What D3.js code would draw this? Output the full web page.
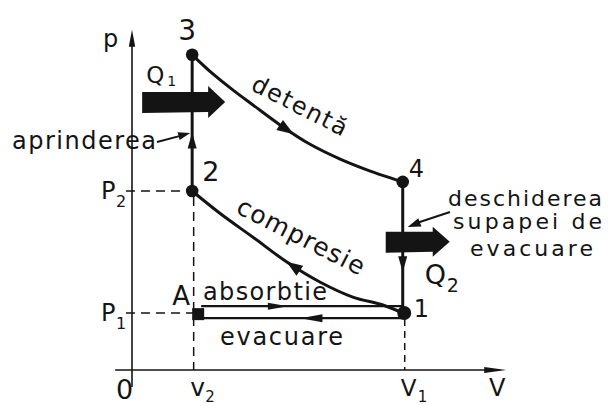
<!DOCTYPE html>
<html>
<head>
<meta charset="utf-8">
<script src="https://cdn.jsdelivr.net/npm/d3@7"></script>
<style>
  html, body { margin: 0; padding: 0; background: #fff; }
  svg { display: block; }
  text { font-family: "DejaVu Sans", sans-serif; fill: #141414; }
</style>
</head>
<body>
<svg id="chart" width="613" height="406"></svg>
<script>
// Otto cycle in the p–V plane: states, processes and heat exchange.

// State points (volume, pressure)
const stateNames = ["1", "2", "3", "4", "A"];
const stateV = [4.5, 1.0, 1.0, 4.5, 1.1];
const stateP = [1.0, 3.14, 5.53, 3.30, 0.98];

// Expansion 3 -> 4 (detentă)
const expansionV = [1.0, 1.35, 1.68, 2.01, 2.46, 2.96, 3.46, 3.96, 4.5];
const expansionP = [5.53, 5.19, 4.91, 4.65, 4.30, 3.96, 3.70, 3.49, 3.30];

// Compression 1 -> 2 (compresie)
const compressionV = [4.5, 4.17, 3.67, 3.13, 2.58, 2.01, 1.46, 1.0];
const compressionP = [1.0, 1.14, 1.28, 1.54, 1.89, 2.33, 2.75, 3.14];

// Intake and exhaust strokes
const intakeP = 1.12;
const exhaustP = 0.91;

// Axis marks
const volumeMarkNames = ["v", "V"];
const volumeMarkSubs = ["2", "1"];
const volumeMarkValues = [1.0, 4.5];
const pressureMarkNames = ["P", "P"];
const pressureMarkSubs = ["2", "1"];
const pressureMarkValues = [3.14, 1.0];

// Heat flows across the isochores
const heatNames = ["Q", "Q"];
const heatSubs = ["1", "2"];
const heatV = [1.0, 4.5];
const heatP = [4.70, 2.25];

const ink = "#141414";
const svg = d3.select("#chart");
const x = d3.scaleLinear().domain([0, 6.2]).range([132, 505]);
const y = d3.scaleLinear().domain([0, 6]).range([370, 28]);

const straight = d3.line().x(d => x(d[0])).y(d => y(d[1]));
const smooth = d3.line().x(d => x(d[0])).y(d => y(d[1])).curve(d3.curveCatmullRom.alpha(0.5));

function head(g, tx, ty, ang, len, half) {
  const c = Math.cos(ang), s = Math.sin(ang);
  const bx = tx - c * len, by = ty - s * len;
  g.append("path")
    .attr("d", `M${tx},${ty}L${bx - s * half},${by + c * half}L${bx + s * half},${by - c * half}Z`)
    .attr("fill", ink);
}

// arrowhead placed along a drawn path at a fraction of its length
function flowHead(pathSel, frac, len, half) {
  const node = pathSel.node();
  const L = node.getTotalLength();
  const p = node.getPointAtLength(frac * L);
  const q = node.getPointAtLength(Math.max(0, frac * L - 2));
  head(svg, p.x, p.y, Math.atan2(p.y - q.y, p.x - q.x), len, half);
}

function label(txt, px, py, size, extra) {
  const t = svg.append("text").attr("x", px).attr("y", py).attr("font-size", size).text(txt);
  if (extra) extra(t);
  return t;
}

// ---- axes
svg.append("line").attr("x1", x(0)).attr("x2", x(0)).attr("y1", y(-0.3)).attr("y2", y(5.8))
  .attr("stroke", ink).attr("stroke-width", 1.6);
head(svg, x(0), y(5.97), -Math.PI / 2, 17, 3.2);
svg.append("line").attr("x1", x(-0.28)).attr("x2", x(6.0)).attr("y1", y(0)).attr("y2", y(0))
  .attr("stroke", ink).attr("stroke-width", 1.6);
head(svg, x(6.22), y(0), 0, 22, 3);

label("p", 103, 47, 24);
label("V", 489, 396, 24);
label("0", 116, 399, 27);

// ---- guide lines (dashed)
const dash = "9,6";
svg.append("line").attr("x1", x(-0.1)).attr("x2", x(stateV[1]) - 5)
  .attr("y1", y(pressureMarkValues[0])).attr("y2", y(pressureMarkValues[0]))
  .attr("stroke", ink).attr("stroke-width", 1.5).attr("stroke-dasharray", dash);
svg.append("line").attr("x1", x(-0.1)).attr("x2", x(stateV[4]))
  .attr("y1", y(pressureMarkValues[1])).attr("y2", y(pressureMarkValues[1]))
  .attr("stroke", ink).attr("stroke-width", 1.5).attr("stroke-dasharray", dash);
svg.append("line").attr("x1", x(volumeMarkValues[0]) + 1.5).attr("x2", x(volumeMarkValues[0]) + 1.5)
  .attr("y1", y(stateP[1]) + 6).attr("y2", y(0))
  .attr("stroke", ink).attr("stroke-width", 1.5).attr("stroke-dasharray", dash);
svg.append("line").attr("x1", x(volumeMarkValues[1]) + 2).attr("x2", x(volumeMarkValues[1]) + 2)
  .attr("y1", y(stateP[0]) + 6).attr("y2", y(0))
  .attr("stroke", ink).attr("stroke-width", 1.5).attr("stroke-dasharray", "7,5");

// axis mark labels
volumeMarkNames.forEach((n, i) => {
  const px = x(volumeMarkValues[i]);
  label(n, px - 2, 396, i === 0 ? 25 : 23);
  label(volumeMarkSubs[i], px + (i === 0 ? 13 : 15), 402, 15);
});
pressureMarkNames.forEach((n, i) => {
  const py = y(pressureMarkValues[i]);
  label(n, 101, py + 8, 24);
  label(pressureMarkSubs[i], 116, py + 16, 16);
});

// ---- cycle processes
const v1 = stateV[0], v2 = stateV[1];

// 2 -> 3 ignition, constant volume
const iso23 = svg.append("path").attr("d", straight([[v2, stateP[1]], [v2, stateP[2]]]))
  .attr("fill", "none").attr("stroke", ink).attr("stroke-width", 3);
flowHead(iso23, 0.43, 16, 4.5);

// 3 -> 4 expansion
const exp = svg.append("path").attr("d", smooth(expansionV.map((v, i) => [v, expansionP[i]])))
  .attr("fill", "none").attr("stroke", ink).attr("stroke-width", 3).attr("stroke-linecap", "round");
flowHead(exp, 0.52, 17, 6);

// 4 -> 1 exhaust valve opening, constant volume
const iso41 = svg.append("path").attr("d", straight([[v1, stateP[3]], [v1, stateP[0]]]))
  .attr("fill", "none").attr("stroke", ink).attr("stroke-width", 3);
flowHead(iso41, 0.69, 16, 4.5);

// 1 -> 2 compression
const comp = svg.append("path").attr("d", smooth(compressionV.map((v, i) => [v, compressionP[i]])))
  .attr("fill", "none").attr("stroke", ink).attr("stroke-width", 3).attr("stroke-linecap", "round");
flowHead(comp, 0.52, 16, 6);

// A -> 1 intake, 1 -> A exhaust
const intake = svg.append("path").attr("d", straight([[stateV[4] + 0.05, intakeP], [v1, intakeP]]))
  .attr("fill", "none").attr("stroke", ink).attr("stroke-width", 2.4);
flowHead(intake, 0.43, 20, 3.5);
const exhaust = svg.append("path").attr("d", straight([[v1, exhaustP], [stateV[4], exhaustP]]))
  .attr("fill", "none").attr("stroke", ink).attr("stroke-width", 2.4);
flowHead(exhaust, 0.5, 22, 4);

// ---- state points
stateNames.forEach((n, i) => {
  const px = x(stateV[i]), py = y(stateP[i]);
  if (n === "A") {
    svg.append("rect").attr("x", px - 6).attr("y", py - 6).attr("width", 12).attr("height", 12).attr("fill", ink);
  } else {
    svg.append("circle").attr("cx", px + (n === "1" ? 1.5 : 0)).attr("cy", py)
      .attr("r", n === "1" ? 7 : 6.3).attr("fill", ink);
  }
});
const pt = i => [x(stateV[i]), y(stateP[i])];
label("3", pt(2)[0] - 14, pt(2)[1] - 15, 28);
label("2", pt(1)[0] + 10, pt(1)[1] - 10, 27);
label("4", pt(3)[0] + 6, pt(3)[1] - 5, 24);
label("1", pt(0)[0] + 11, pt(0)[1] + 4, 24);
label("A", pt(4)[0] - 26, pt(4)[1] - 9, 26);

// ---- heat flows
heatNames.forEach((n, i) => {
  const cx = x(heatV[i]), cy = y(heatP[i]);
  const shaftL = i === 0 ? cx - 50 : cx - 17;
  const shaftR = i === 0 ? cx + 16 : cx + 30;
  const tip = i === 0 ? cx + 33 : cx + 47;
  const hs = 10, hh = i === 0 ? 16 : 15;
  svg.append("path")
    .attr("d", `M${shaftL},${cy - hs}L${shaftR},${cy - hs}L${shaftR},${cy - hh}L${tip},${cy}` +
               `L${shaftR},${cy + hh}L${shaftR},${cy + hs}L${shaftL},${cy + hs + 1}Z`)
    .attr("fill", ink);
  if (i === 0) {
    label(n, cx - 46, cy - 19, 23);
    label(heatSubs[i], cx - 25, cy - 16, 14);
  } else {
    label(n, cx + 22, cy + 42, 27);
    label(heatSubs[i], cx + 44, cy + 50, 19);
  }
});

// ---- process names
label("detentă", 296, 113, 24, t => t.attr("text-anchor", "middle")
  .attr("transform", "rotate(27,296,113)").attr("textLength", 104).attr("lengthAdjust", "spacing"));
label("compresie", 297, 244, 25, t => t.attr("text-anchor", "middle")
  .attr("transform", "rotate(27,297,244)").attr("textLength", 140).attr("lengthAdjust", "spacing"));
label("absorbtie", 203, 300, 24, t => t.attr("textLength", 124).attr("lengthAdjust", "spacing"));
label("evacuare", 220, 345, 24, t => t.attr("textLength", 123).attr("lengthAdjust", "spacing"));

// ignition note with leader
label("aprinderea", 12, 149, 24, t => t.attr("textLength", 144).attr("lengthAdjust", "spacing"));
svg.append("line").attr("x1", 157).attr("y1", 142).attr("x2", x(v2) - 10).attr("y2", y(4.16) + 2.5)
  .attr("stroke", ink).attr("stroke-width", 2);
head(svg, x(v2) - 2, y(4.16), Math.atan2(-9, 32), 12, 4);

// exhaust valve note with leader
label("deschiderea", 448, 206, 22, t => t.attr("textLength", 154).attr("lengthAdjust", "spacing"));
label("supapei de", 453, 229, 22, t => t.attr("textLength", 149).attr("lengthAdjust", "spacing"));
label("evacuare", 470, 256, 22, t => t.attr("textLength", 123).attr("lengthAdjust", "spacing"));
svg.append("line").attr("x1", 450).attr("y1", 212).attr("x2", x(v1) + 14).attr("y2", 223)
  .attr("stroke", ink).attr("stroke-width", 2);
head(svg, x(v1) + 5, 227, Math.atan2(16, -42), 13, 4.5);
</script>
</body>
</html>
